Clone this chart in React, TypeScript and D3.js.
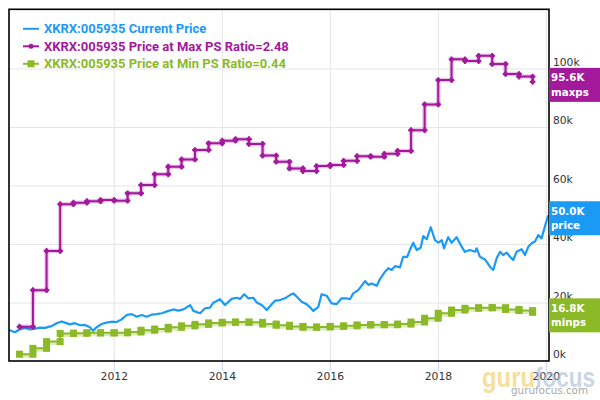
import React from 'react';
import * as d3 from 'd3';

// Current price (KRW)
const priceDates = [
  '2010-01-20', '2010-02-28', '2010-04-03', '2010-05-07', '2010-06-10', '2010-07-13', '2010-08-16', '2010-09-19',
  '2010-11-03', '2010-12-07', '2011-01-10', '2011-02-01', '2011-03-07', '2011-04-10', '2011-05-14', '2011-06-17',
  '2011-07-20', '2011-08-11', '2011-09-03', '2011-10-07', '2011-11-10', '2011-12-14', '2012-01-17', '2012-02-20',
  '2012-03-25', '2012-04-28', '2012-06-01', '2012-07-04', '2012-08-07', '2012-09-10', '2012-10-14', '2012-11-17',
  '2013-01-01', '2013-02-04', '2013-03-10', '2013-04-13', '2013-05-28', '2013-06-19', '2013-08-03', '2013-09-06',
  '2013-10-09', '2013-11-01', '2013-12-16', '2014-01-19', '2014-03-05', '2014-04-08', '2014-04-30', '2014-05-29',
  '2014-06-25', '2014-07-29', '2014-08-21', '2014-09-24', '2014-10-28', '2014-12-01', '2014-12-23', '2015-01-26',
  '2015-02-28', '2015-04-03', '2015-04-25', '2015-05-18', '2015-06-21', '2015-07-25', '2015-08-23', '2015-09-08',
  '2015-10-12', '2015-11-03', '2015-12-07', '2016-01-10', '2016-02-13', '2016-03-17', '2016-04-20', '2016-05-13',
  '2016-06-04', '2016-07-08', '2016-08-23', '2016-09-14', '2016-10-07', '2016-11-10', '2016-12-02', '2017-01-05',
  '2017-01-27', '2017-02-19', '2017-03-13', '2017-04-16', '2017-05-08', '2017-06-04', '2017-06-22', '2017-07-15',
  '2017-08-07', '2017-09-03', '2017-09-21', '2017-10-14', '2017-11-10', '2017-12-09', '2018-01-01', '2018-01-24',
  '2018-02-08', '2018-03-08', '2018-03-31', '2018-05-04', '2018-06-01', '2018-06-29', '2018-08-02', '2018-09-06',
  '2018-09-17', '2018-10-09', '2018-11-12', '2018-12-16', '2019-01-07', '2019-01-30', '2019-02-22', '2019-03-15',
  '2019-04-08', '2019-04-30', '2019-05-22', '2019-06-14', '2019-07-18', '2019-08-09', '2019-09-01', '2019-09-24',
  '2019-10-16', '2019-11-07', '2019-11-30', '2019-12-22', '2020-01-14',
];
const priceValues = [
  10800, 10000, 11000, 11500, 11000, 11200, 11600, 11500,
  12100, 13100, 13700, 13300, 12700, 13100, 12400, 12500,
  11700, 10500, 11700, 12800, 13300, 13600, 13500, 14400,
  15900, 16200, 15300, 15900, 15300, 16000, 16200, 16500,
  17300, 17800, 17400, 17800, 19300, 17300, 16500, 18200,
  18400, 20100, 21300, 19300, 21400, 21800, 21400, 23000,
  21600, 21800, 20200, 19300, 17600, 19600, 20800, 21000,
  21600, 22700, 23300, 22200, 20400, 19600, 18200, 17300,
  18700, 23000, 22500, 19900, 19600, 21600, 21600, 21300,
  23300, 24400, 27500, 26200, 26700, 25900, 28200, 30700,
  31900, 31300, 32600, 32200, 35800, 35800, 38100, 40600,
  38100, 38900, 42900, 41800, 45900, 41500, 40600, 41500,
  38700, 42500, 40600, 42500, 39800, 37500, 38100, 37500,
  38700, 35800, 34900, 32400, 31300, 35300, 37500, 36400,
  37200, 35800, 34700, 37500, 38400, 36400, 39200, 40400,
  41000, 43200, 42100, 46100, 50000,
];

// quarterly PS-ratio based prices
const quarterDates = [
  '2010-03-31', '2010-06-30', '2010-09-30', '2010-12-31', '2011-03-31', '2011-06-30', '2011-09-30', '2011-12-31',
  '2012-03-31', '2012-06-30', '2012-09-30', '2012-12-31', '2013-03-31', '2013-06-30', '2013-09-30', '2013-12-31',
  '2014-03-31', '2014-06-30', '2014-09-30', '2014-12-31', '2015-03-31', '2015-06-30', '2015-09-30', '2015-12-31',
  '2016-03-31', '2016-06-30', '2016-09-30', '2016-12-31', '2017-03-31', '2017-06-30', '2017-09-30', '2017-12-31',
  '2018-03-31', '2018-06-30', '2018-09-30', '2018-12-31', '2019-03-31', '2019-06-30', '2019-09-30',
];
const maxPsValues = [
  11900, 24400, 37800, 53800, 54300, 54800, 55200, 55000,
  57500, 60300, 64000, 66600, 69100, 72300, 74600, 75500,
  76000, 74400, 70400, 68300, 66000, 65100, 66800, 67200,
  68600, 70200, 70000, 71000, 72000, 79100, 87900, 96200,
  103300, 102700, 104500, 101700, 98300, 97400, 95600,
];
const minPsValues = [
  2500, 4500, 6800, 9600, 9700, 9800, 9800, 9800,
  10100, 10700, 11100, 11700, 12200, 12700, 13200, 13400,
  13500, 13400, 12800, 12400, 12000, 11700, 11800, 12000,
  12200, 12500, 12600, 12600, 12800, 13500, 14800, 16500,
  17600, 18200, 18400, 18400, 17800, 17400, 16800,
];

const yTicks = [0, 20000, 40000, 60000, 80000, 100000];
const xTickYears = ['2012', '2014', '2016', '2018', '2020'];
const legendLabels = [
  'XKRX:005935 Current Price',
  'XKRX:005935 Price at Max PS Ratio=2.48',
  'XKRX:005935 Price at Min PS Ratio=0.44',
];
const tagNames = ['price', 'maxps', 'minps'];

const BLUE = '#1a9af5';
const PURPLE = '#a3199c';
const GREEN = '#8bb927';

const parse = d3.timeParse('%Y-%m-%d');

export default function App() {
  const left = 9, right = 549, top = 9.3, bottom = 361;
  const x = d3.scaleTime()
    .domain([parse('2010-01-19'), parse('2020-01-19')])
    .range([left, right]);
  const y = d3.scaleLinear().domain([0, 120000]).range([361.5, 10.5]);

  const price = priceDates.map((d, i) => ({ d: parse(d), v: priceValues[i] }));
  const maxPs = quarterDates.map((d, i) => ({ d: parse(d), v: maxPsValues[i] }));
  const minPs = quarterDates.map((d, i) => ({ d: parse(d), v: minPsValues[i] }));

  const line = d3.line<any>().x(p => x(p.d)).y(p => y(p.v));
  const step = d3.line<any>().x(p => x(p.d)).y(p => y(p.v)).curve(d3.curveStepAfter);

  // markers at both ends of every step
  const stepMarks = (pts) => {
    const out = pts.map(p => [x(p.d), y(p.v)]);
    for (let i = 1; i < pts.length; i++) out.push([x(pts[i].d), y(pts[i - 1].v)]);
    return out;
  };
  const cross = d3.symbol().type(d3.symbolCross).size(18)();

  const fmtK = (v) => (v / 1000).toFixed(1) + 'K';
  const tags = [
    { v: priceValues[priceValues.length - 1], c: BLUE, n: tagNames[0] },
    { v: maxPsValues[maxPsValues.length - 1], c: PURPLE, n: tagNames[1] },
    { v: minPsValues[minPsValues.length - 1], c: GREEN, n: tagNames[2] },
  ];

  const axisFont = 'DejaVu Sans, sans-serif';

  return (
    <svg width={600} height={400} style={{ position: 'absolute', left: 0, top: 0, background: '#fff' }}>
      {/* grid */}
      {yTicks.filter(t => t > 0).map(t => (
        <line key={'gy' + t} x1={left} x2={right} y1={y(t)} y2={y(t)} stroke="#e6e6e6" strokeWidth={1} />
      ))}
      {xTickYears.map(yr => {
        const xx = x(parse(yr + '-01-01'));
        return (
          <g key={'gx' + yr}>
            <line x1={xx} x2={xx} y1={top} y2={bottom} stroke="#e6e6e6" strokeWidth={1} />
            <line x1={xx} x2={xx} y1={bottom} y2={bottom + 10} stroke="#ccd6eb" strokeWidth={1} />
          </g>
        );
      })}

      {/* current price */}
      <path d={line(price)} fill="none" stroke={BLUE} strokeWidth={2.2} strokeLinejoin="round" />

      {/* min PS */}
      <path d={step(minPs)} fill="none" stroke={GREEN} strokeOpacity={0.3} strokeWidth={4} transform="translate(0,1.5)" />
      <path d={step(minPs)} fill="none" stroke={GREEN} strokeWidth={2} />
      {stepMarks(minPs).map((p, i) => (
        <rect key={'ms' + i} x={p[0] - 3.5} y={p[1] - 3.5} width={7} height={7} fill={GREEN} />
      ))}

      {/* max PS */}
      <path d={step(maxPs)} fill="none" stroke={PURPLE} strokeOpacity={0.25} strokeWidth={4.5} />
      <path d={step(maxPs)} fill="none" stroke={PURPLE} strokeWidth={2} />
      {stepMarks(maxPs).map((p, i) => (
        <g key={'mx' + i} transform={`translate(${p[0]},${p[1]})`}>
          <path d={cross} fill={PURPLE} />
          <circle r={2.2} fill={PURPLE} />
        </g>
      ))}

      {/* frame */}
      <rect x={left} y={top} width={right - left} height={bottom - top} fill="none" stroke="#000" strokeWidth={1.6} />

      {/* legend */}
      {legendLabels.map((lab, i) => {
        const by = 33.3 + i * 17.5;
        const c = [BLUE, PURPLE, GREEN][i];
        return (
          <g key={'lg' + i}>
            <line x1={23} x2={39} y1={by - 4.5} y2={by - 4.5} stroke={c} strokeWidth={2} />
            {i === 1 && <circle cx={31} cy={by - 4.5} r={2.5} fill={c} />}
            {i === 2 && <rect x={27.5} y={by - 8} width={7} height={7} fill={c} />}
            <text x={44} y={by} fill={c} fontFamily="Roboto, sans-serif" fontWeight="bold" fontSize={13}>{lab}</text>
          </g>
        );
      })}

      {/* axes labels */}
      {yTicks.map(t => (
        <text key={'yl' + t} x={553} y={y(t) - 3.5} fill="#333" fontFamily={axisFont} fontSize={10.7}>{t / 1000 + 'k'}</text>
      ))}
      {xTickYears.map(yr => (
        <text key={'xl' + yr} x={x(parse(yr + '-01-01'))} y={380} textAnchor="middle" fill="#333" fontFamily={axisFont} fontSize={10.8}>{yr}</text>
      ))}

      {/* last value tags */}
      {tags.map((t, i) => {
        const ty = y(t.v) - 14;
        return (
          <g key={'tg' + i}>
            <rect x={549} y={ty} width={51} height={34} fill={t.c} />
            <text x={551} y={ty + 13.5} fill="#fff" fontFamily={axisFont} fontWeight="bold" fontSize={10.3}>{fmtK(t.v)}</text>
            <text x={551} y={ty + 28} fill="#fff" fontFamily={axisFont} fontWeight="bold" fontSize={10.3}>{t.n}</text>
          </g>
        );
      })}

      {/* watermark */}
      <g opacity={0.55}>
        <text x={482} y={387} fontFamily="Liberation Sans, sans-serif" fontWeight="bold" fontSize={28} fill="#f0c550" textLength={53} lengthAdjust="spacingAndGlyphs">guru</text>
        <text x={535} y={387} fontFamily="Liberation Sans, sans-serif" fontWeight="bold" fontSize={28} fill="#9fb5d3" textLength={60} lengthAdjust="spacingAndGlyphs">focus</text>
      </g>
      <text x={511} y={394} fontFamily="DejaVu Sans, sans-serif" fontSize={10.5} fill="#999" opacity={0.85} textLength={77} lengthAdjust="spacingAndGlyphs">gurufocus.com</text>
    </svg>
  );
}
